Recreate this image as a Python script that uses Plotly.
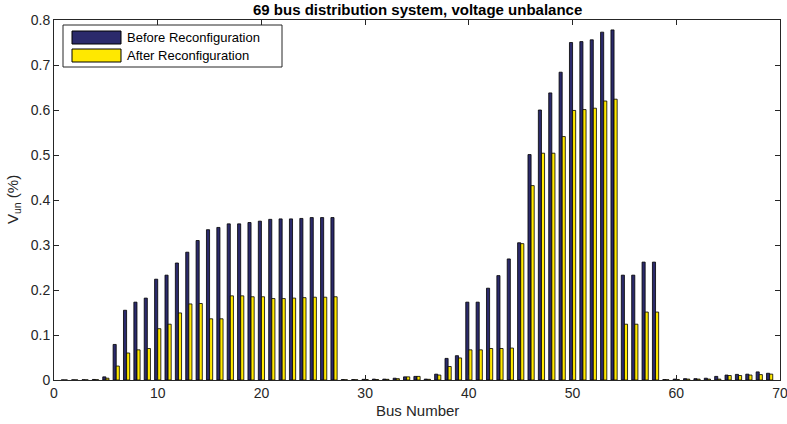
import plotly.graph_objects as go

# ---------------------------------------------------------------------------
# Data
# ---------------------------------------------------------------------------
bus = list(range(1, 70))

before = [
    0.0002, 0.0004, 0.0006, 0.0012, 0.007, 0.079, 0.155, 0.173, 0.182, 0.224,
    0.233, 0.260, 0.284, 0.310, 0.334, 0.339, 0.347, 0.347, 0.350, 0.353,
    0.357, 0.358, 0.358, 0.359, 0.361, 0.361, 0.361, 0.001, 0.001, 0.0015,
    0.002, 0.002, 0.004, 0.007, 0.008, 0.002, 0.013, 0.048, 0.054, 0.173,
    0.173, 0.204, 0.232, 0.269, 0.305, 0.501, 0.600, 0.638, 0.684, 0.750,
    0.752, 0.756, 0.773, 0.778, 0.233, 0.233, 0.262, 0.262, 0.001, 0.002,
    0.003, 0.003, 0.004, 0.008, 0.011, 0.0125, 0.013, 0.018, 0.015,
]

after = [
    0.0001, 0.0002, 0.0003, 0.0006, 0.004, 0.031, 0.060, 0.067, 0.070, 0.114,
    0.124, 0.149, 0.169, 0.170, 0.136, 0.136, 0.187, 0.187, 0.185, 0.185,
    0.181, 0.181, 0.182, 0.183, 0.184, 0.184, 0.185, 0.0005, 0.0005, 0.001,
    0.001, 0.0015, 0.003, 0.007, 0.008, 0.0015, 0.011, 0.030, 0.049, 0.067,
    0.067, 0.070, 0.070, 0.071, 0.303, 0.432, 0.504, 0.504, 0.541, 0.599,
    0.601, 0.604, 0.620, 0.624, 0.124, 0.124, 0.151, 0.151, 0.0005, 0.001,
    0.002, 0.002, 0.002, 0.002, 0.010, 0.010, 0.011, 0.012, 0.013,
]

series_names = ["Before Reconfiguration", "After Reconfiguration"]
series_colors = ["#2B2A6B", "#FFE800"]

x_ticks = [0, 10, 20, 30, 40, 50, 60, 70]
y_ticks = [0, 0.1, 0.2, 0.3, 0.4, 0.5, 0.6, 0.7, 0.8]

FONT = "Liberation Sans, Arial, Helvetica, sans-serif"
AXIS_COLOR = "#262626"

# plot area in pixels (matches the MATLAB axes box)
L, R, T, B = 54, 780, 20, 380


def px_x(p):
    return (p - L) / float(R - L)


def px_y(p):
    return (B - p) / float(B - T)


# ---------------------------------------------------------------------------
# Figure
# ---------------------------------------------------------------------------
fig = go.Figure()
for name, vals, col in zip(series_names, [before, after], series_colors):
    fig.add_trace(go.Bar(
        name=name, x=bus, y=vals,
        marker=dict(color=col, line=dict(color="#000000", width=0.8)),
        showlegend=False,
    ))

fig.update_layout(
    width=787, height=424,
    margin=dict(l=L, r=787 - R, t=T, b=424 - B),
    paper_bgcolor="white",
    plot_bgcolor="white",
    barmode="group",
    bargap=0.4,
    bargroupgap=0,
    font=dict(family=FONT, size=14, color=AXIS_COLOR),
)

axis_style = dict(
    showgrid=False, zeroline=False, automargin=False,
    showline=True, linecolor=AXIS_COLOR, linewidth=1, mirror="allticks",
    ticks="inside", ticklen=5, tickcolor=AXIS_COLOR,
    tickfont=dict(family=FONT, size=14, color=AXIS_COLOR),
    ticklabeloverflow="allow",
)
fig.update_xaxes(range=[0, 70], tickvals=x_ticks, **axis_style)
fig.update_yaxes(range=[0, 0.8], tickvals=y_ticks, **axis_style)

# titles as annotations for exact placement
fig.add_annotation(xref="paper", yref="paper", x=0.5, y=px_y(9),
                   text="<b>69 bus distribution system, voltage unbalance</b>",
                   showarrow=False, xanchor="center", yanchor="middle",
                   font=dict(family=FONT, size=15, color="#000000"))
fig.add_annotation(xref="paper", yref="paper", x=0.5, y=px_y(410),
                   text="Bus Number", showarrow=False,
                   xanchor="center", yanchor="middle",
                   font=dict(family=FONT, size=15, color=AXIS_COLOR))
fig.add_annotation(xref="paper", yref="paper", x=px_x(13), y=0.5,
                   text="V<sub>un</sub> (%)", showarrow=False, textangle=-90,
                   xanchor="center", yanchor="middle",
                   font=dict(family=FONT, size=15, color=AXIS_COLOR))

# MATLAB-style legend box with wide colour patches
fig.add_shape(type="rect", xref="paper", yref="paper",
              x0=px_x(63), x1=px_x(282), y0=px_y(67), y1=px_y(25),
              line=dict(color=AXIS_COLOR, width=1), fillcolor="white", layer="above")
for i, (name, col) in enumerate(zip(series_names, series_colors)):
    top = 31 + i * 18
    fig.add_shape(type="rect", xref="paper", yref="paper",
                  x0=px_x(72), x1=px_x(121), y0=px_y(top + 13), y1=px_y(top),
                  line=dict(color="#000000", width=1), fillcolor=col, layer="above")
    fig.add_annotation(xref="paper", yref="paper",
                       x=px_x(125), y=px_y(top + 6.5),
                       text=name, showarrow=False, xanchor="left", yanchor="middle",
                       font=dict(family=FONT, size=13, color="#000000"))

# drop the browser's default 8px body margin so the figure sits at (0, 0)
fig.write_html("out.html",
               config={"displayModeBar": False},
               post_script="document.body.style.margin='0';document.body.style.overflow='hidden';")
